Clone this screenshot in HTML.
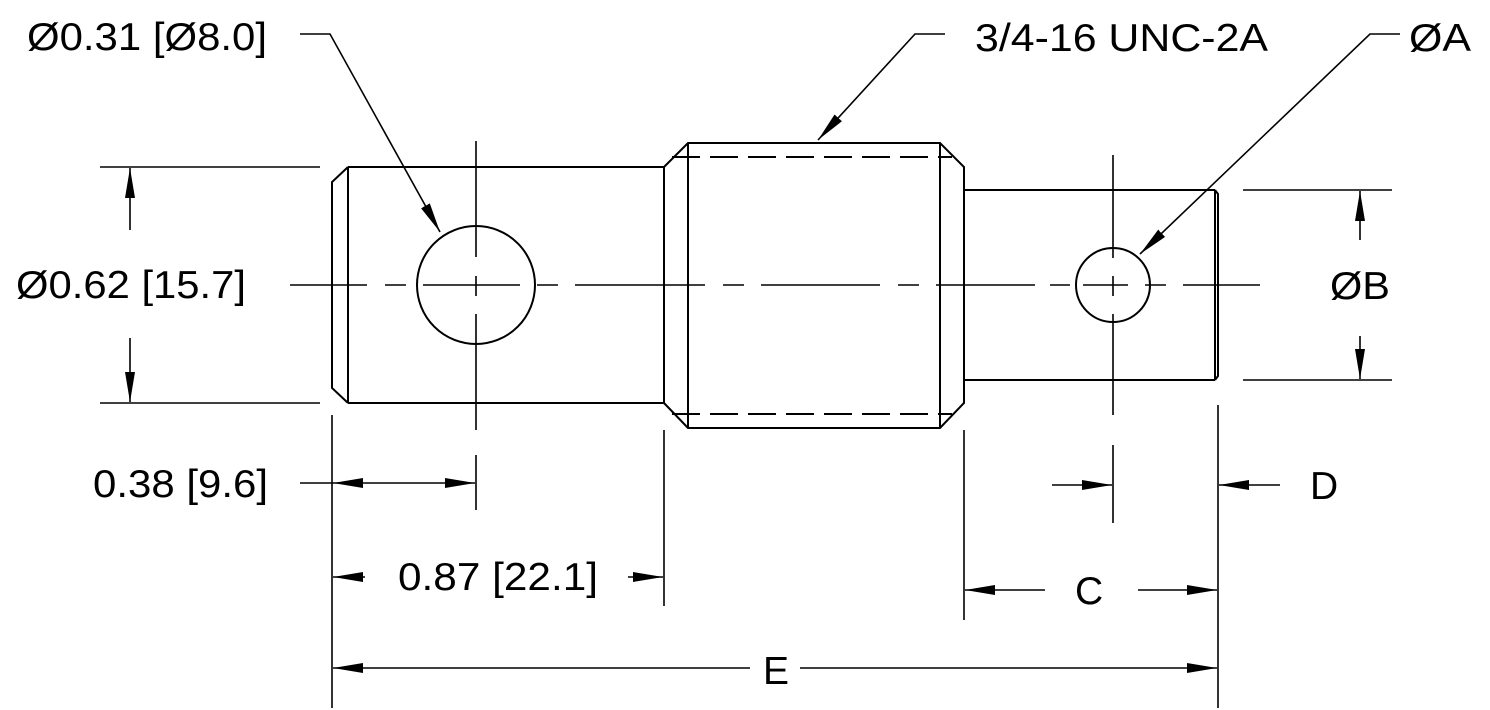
<!DOCTYPE html>
<html><head><meta charset="utf-8"><style>
html,body{margin:0;padding:0;background:#fff}
svg{display:block}
text{font-family:"Liberation Sans",Arial,sans-serif;font-size:39px;fill:#000}
</style></head><body>
<svg width="1490" height="710" viewBox="0 0 1490 710" xmlns="http://www.w3.org/2000/svg">
<defs>
<marker id="a" viewBox="0 0 30 10" refX="30" refY="5" markerWidth="30" markerHeight="10" markerUnits="userSpaceOnUse" orient="auto">
<polygon points="0,0 30,5 0,10" fill="#000"/>
</marker>
</defs>
<g stroke="#000" stroke-width="2" fill="none">
<polyline points="348,167 332,182 332,388 348,403"/>
<line x1="348" y1="167" x2="348" y2="403"/>
<line x1="348" y1="167" x2="664" y2="167"/>
<line x1="348" y1="403" x2="664" y2="403"/>
<line x1="664" y1="167" x2="664" y2="403"/>
<polyline points="664,167 688,143 940,143 964,167 964,403 940,428 688,428 664,403"/>
<line x1="688" y1="143" x2="688" y2="428"/>
<line x1="940" y1="143" x2="940" y2="428"/>
<line x1="672" y1="157" x2="952" y2="157" stroke-dasharray="28,10"/>
<line x1="672" y1="414" x2="952" y2="414" stroke-dasharray="28,10"/>
<line x1="964" y1="190" x2="1215" y2="190"/>
<line x1="964" y1="380" x2="1215" y2="380"/>
<line x1="1215" y1="190" x2="1215" y2="380"/>
<polyline points="1215,190 1218,194 1218,376 1215,380"/>
<circle cx="476" cy="285" r="59"/>
<circle cx="1113" cy="285" r="37"/>
</g>
<g stroke="#000" stroke-width="1.6" fill="none">
<path d="M290 285H367M385 285H406M423 285H520M537 285H558M575 285H705M723 285H744M761 285H880M898 285H919M936 285H1035M1050 285H1070M1083 285H1128M1145 285H1166M1183 285H1260"/>
<path d="M476 141V257M476 276V296M476 314V430M476 455V510"/>
<path d="M1113 155V258M1113 276V296M1113 314V415M1113 445V523"/>
<line x1="100" y1="167" x2="320" y2="167"/>
<line x1="100" y1="403" x2="320" y2="403"/>
<line x1="1243" y1="190" x2="1392" y2="190"/>
<line x1="1243" y1="380" x2="1392" y2="380"/>
<line x1="332" y1="415" x2="332" y2="708"/>
<line x1="664" y1="430" x2="664" y2="606"/>
<line x1="964" y1="430" x2="964" y2="620"/>
<line x1="1218" y1="405" x2="1218" y2="708"/>
<line x1="130" y1="230" x2="130" y2="168" marker-end="url(#a)"/>
<line x1="130" y1="338" x2="130" y2="402" marker-end="url(#a)"/>
<line x1="1360" y1="240" x2="1360" y2="191" marker-end="url(#a)"/>
<line x1="1360" y1="336" x2="1360" y2="379" marker-end="url(#a)"/>
<line x1="300" y1="483" x2="333" y2="483"/>
<line x1="404" y1="483" x2="333" y2="483" marker-end="url(#a)"/>
<line x1="404" y1="483" x2="475" y2="483" marker-end="url(#a)"/>
<line x1="365" y1="577" x2="333" y2="577" marker-end="url(#a)"/>
<line x1="628" y1="577" x2="663" y2="577" marker-end="url(#a)"/>
<line x1="1045" y1="590" x2="965" y2="590" marker-end="url(#a)"/>
<line x1="1138" y1="590" x2="1217" y2="590" marker-end="url(#a)"/>
<line x1="1052" y1="485" x2="1112" y2="485" marker-end="url(#a)"/>
<line x1="1280" y1="485" x2="1219" y2="485" marker-end="url(#a)"/>
<line x1="750" y1="668" x2="333" y2="668" marker-end="url(#a)"/>
<line x1="800" y1="668" x2="1217" y2="668" marker-end="url(#a)"/>
<polyline points="300,34 330,34 440,232" marker-end="url(#a)"/>
<polyline points="945,34 915,34 818,140" marker-end="url(#a)"/>
<polyline points="1400,34 1370,34 1140,254" marker-end="url(#a)"/>
</g>
<text x="27" y="50" textLength="240" lengthAdjust="spacingAndGlyphs">Ø0.31 [Ø8.0]</text>
<text x="975" y="51" textLength="293" lengthAdjust="spacingAndGlyphs">3/4-16 UNC-2A</text>
<text x="1409" y="51" textLength="62" lengthAdjust="spacingAndGlyphs">ØA</text>
<text x="16" y="298" textLength="230" lengthAdjust="spacingAndGlyphs">Ø0.62 [15.7]</text>
<text x="1330" y="299" textLength="60" lengthAdjust="spacingAndGlyphs">ØB</text>
<text x="93" y="497" textLength="175" lengthAdjust="spacingAndGlyphs">0.38 [9.6]</text>
<text x="398" y="590" textLength="200" lengthAdjust="spacingAndGlyphs">0.87 [22.1]</text>
<text x="1075" y="604">C</text>
<text x="1310" y="499">D</text>
<text x="763" y="684">E</text>
</svg>
</body></html>
